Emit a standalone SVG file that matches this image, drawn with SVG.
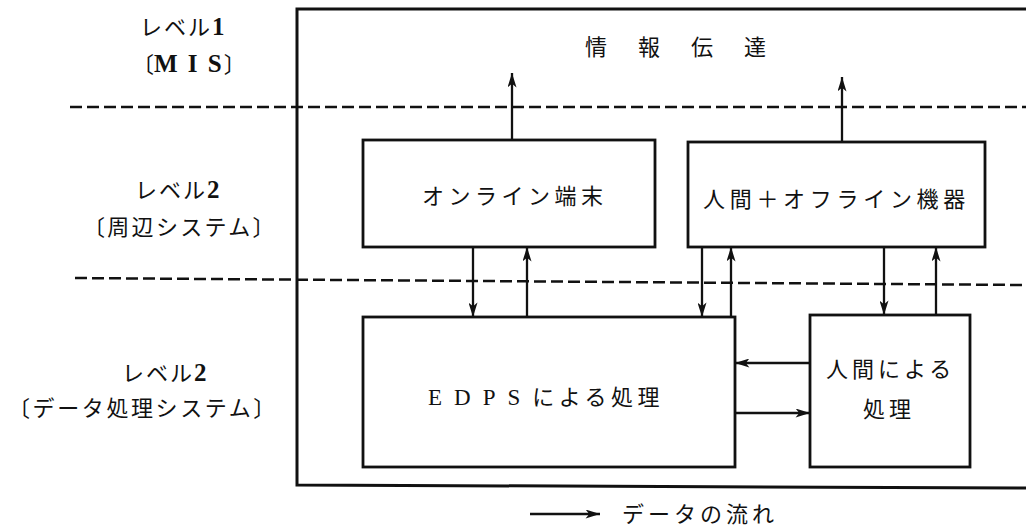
<svg xmlns="http://www.w3.org/2000/svg" width="1026" height="529" viewBox="0 0 1026 529">
<defs>
<style>
.jp{font-family:"Noto Sans CJK JP","Noto Sans CJK SC",sans-serif;font-size:22px;fill:#111;}
.lat{font-family:"Liberation Serif",serif;font-weight:bold;}
.latr{font-family:"Liberation Serif",serif;}
.box{fill:#fff;stroke:#111;stroke-width:2.8;}
.frame{fill:none;stroke:#111;stroke-width:3;}
.dash{fill:none;stroke:#111;stroke-width:2.5;stroke-dasharray:12 5;}
.con{fill:none;stroke:#111;stroke-width:2.3;marker-end:url(#ah);}
</style>
<marker id="ah" viewBox="0 0 16 10" refX="16" refY="5" markerWidth="17" markerHeight="9" markerUnits="userSpaceOnUse" orient="auto">
<path d="M0,0 L16,5 L0,10 L4,5 z" fill="#111"/>
</marker>
</defs>
<rect width="1026" height="529" fill="#fff"/>

<g id="frame">
<path class="frame" d="M1026,9 H297 V485 L1026,488"/>
</g>
<g id="levels">
<path class="dash" d="M70,107 H1026"/>
<path class="dash" d="M75,278 L1026,285"/>
</g>

<g id="labels">
<text class="jp" x="140" y="35" letter-spacing="2">レベル<tspan class="lat" font-size="25">1</tspan></text>
<text class="jp" x="132" y="72">〔<tspan class="lat" font-size="25" letter-spacing="2">M I S</tspan>〕</text>
<text class="jp" x="135" y="198" letter-spacing="2">レベル<tspan class="lat" font-size="25">2</tspan></text>
<text class="jp" x="83" y="235" letter-spacing="2.3">〔周辺システム〕</text>
<text class="jp" x="122" y="381" letter-spacing="2">レベル<tspan class="lat" font-size="25">2</tspan></text>
<text class="jp" x="8" y="416" letter-spacing="2.6">〔データ処理システム〕</text>
</g>

<g id="n-info">
<text class="jp" x="585" y="55" font-size="24" letter-spacing="31">情報伝達</text>
</g>

<g id="n-online">
<rect class="box" x="363" y="140" width="292" height="107"/>
<text class="jp" x="422" y="204" letter-spacing="4.5">オンライン端末</text>
</g>

<g id="n-offline">
<rect class="box" x="688" y="142" width="297" height="105"/>
<text class="jp" x="703" y="207" letter-spacing="4.7">人間＋オフライン機器</text>
</g>

<g id="n-edps">
<rect class="box" x="363" y="317" width="372" height="150"/>
<text class="jp" x="428" y="405"><tspan class="latr" font-size="23" letter-spacing="12">EDPS</tspan><tspan letter-spacing="4.5">による処理</tspan></text>
</g>

<g id="n-human">
<rect class="box" x="810" y="315" width="160" height="152"/>
<text class="jp" x="826" y="377" letter-spacing="4">人間による</text>
<text class="jp" x="863" y="417" letter-spacing="4">処理</text>
</g>

<g id="connectors">
<path class="con" d="M512,140 V73"/>
<path class="con" d="M842,142 V77"/>
<path class="con" d="M473,247 V317"/>
<path class="con" d="M527,317 V247"/>
<path class="con" d="M702,247 V317"/>
<path class="con" d="M731,317 V247"/>
<path class="con" d="M884,247 V315"/>
<path class="con" d="M936,315 V247"/>
<path class="con" d="M810,363 H735"/>
<path class="con" d="M735,413 H810"/>
</g>

<g id="legend">
<path class="con" d="M530,514 H600"/>
<text class="jp" x="622" y="522" letter-spacing="4">データの流れ</text>
</g>
</svg>
